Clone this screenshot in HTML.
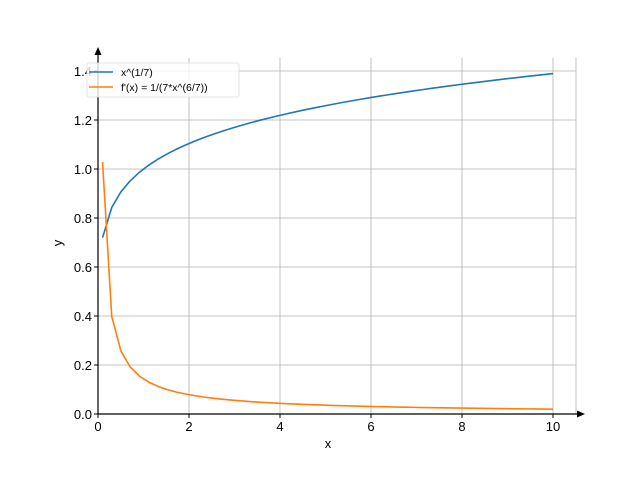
<!DOCTYPE html><html><head><style>body{margin:0;background:#fff}svg{display:block}text{font-family:"Liberation Sans",sans-serif}</style></head><body>
<svg id="s" width="640" height="480" viewBox="0 0 640 480" xmlns="http://www.w3.org/2000/svg">
<g stroke="#b0b0b0" stroke-width="0.8" id="grid"></g>
<g id="ticks" font-size="13" fill="#000"></g>
<path id="p1" fill="none" stroke="#1f77b4" stroke-width="1.6"/>
<path id="p2" fill="none" stroke="#ff7f0e" stroke-width="1.6"/>
<line x1="98" y1="414" x2="580" y2="414" stroke="#000" stroke-width="1.2"/>
<polygon points="585,414 577,410.5 577,417.5" fill="#000"/>
<line x1="98" y1="414" x2="98" y2="52" stroke="#000" stroke-width="1.2"/>
<polygon points="98,47 94.5,55 101.5,55" fill="#000"/>
<text x="328" y="448" font-size="13" text-anchor="middle">x</text>
<text x="62" y="243" font-size="13" text-anchor="middle" transform="rotate(-90 62 243)">y</text>
<rect x="87" y="63" width="152" height="34" rx="2" fill="#fff" fill-opacity="0.8" stroke="#ddd" stroke-width="0.8"/>
<line x1="89" y1="72" x2="113" y2="72" stroke="#1f77b4" stroke-width="1.6"/>
<line x1="89" y1="87" x2="113" y2="87" stroke="#ff7f0e" stroke-width="1.6"/>
<text x="121" y="76" font-size="10.5">x^(1/7)</text>
<text x="121" y="91" font-size="10.5">f'(x) = 1/(7*x^(6/7))</text>
</svg>
<script>
var X=x=>98+x*45.5,Y=y=>414-y*245;
var g=document.getElementById('grid'),t=document.getElementById('ticks'),h='',th='';
for(var i=0;i<=10;i+=2){var px=X(i);if(i>0)h+='<line x1="'+px+'" y1="58" x2="'+px+'" y2="414"/>';th+='<line x1="'+px+'" y1="414" x2="'+px+'" y2="418" stroke="#000"/><text x="'+px+'" y="431" text-anchor="middle">'+i+'</text>';}
h+='<line x1="576" y1="58" x2="576" y2="414"/>';
for(var j=0;j<=7;j++){var py=Y(j*0.2);if(j>0)h+='<line x1="98" y1="'+py+'" x2="576" y2="'+py+'"/>';th+='<line x1="94" y1="'+py+'" x2="98" y2="'+py+'" stroke="#000"/><text x="92" y="'+(py+5)+'" text-anchor="end">'+(j*0.2).toFixed(1)+'</text>';}
g.innerHTML=h;t.innerHTML=th;
var a='',b='';for(var k=0;k<50;k++){var x=0.1+k*9.9/49;a+=(k?'L':'M')+X(x).toFixed(2)+','+Y(Math.pow(x,1/7)).toFixed(2);b+=(k?'L':'M')+X(x).toFixed(2)+','+Y(1/(7*Math.pow(x,6/7))).toFixed(2);}
document.getElementById('p1').setAttribute('d',a);document.getElementById('p2').setAttribute('d',b);
</script>
</body></html>
